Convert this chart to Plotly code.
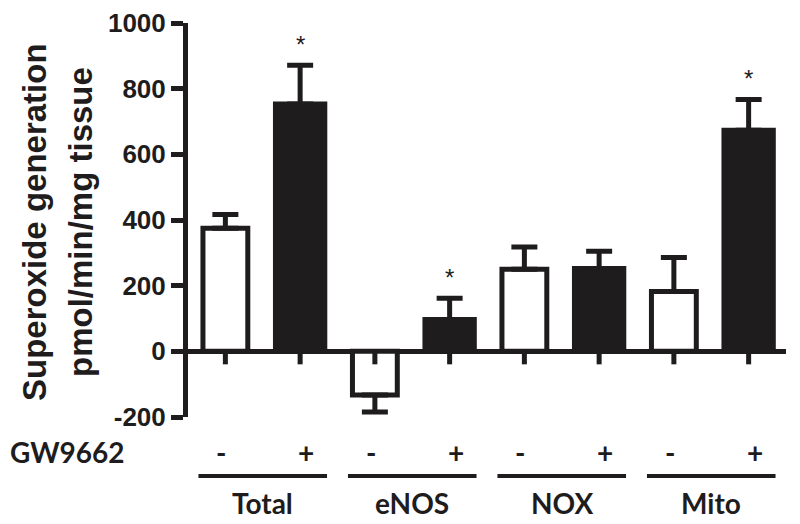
import plotly.graph_objects as go

# ---- data ----
categories = ["Total", "eNOS", "NOX", "Mito"]
treatments = ["-", "+"]
vals_minus = [375, -133, 250, 182]      # GW9662 -
vals_plus = [753, 97, 252, 673]         # GW9662 +
err_minus = [42, 52, 68, 104]           # SEM, GW9662 -
err_plus = [118, 65, 53, 94]            # SEM, GW9662 +
sig_minus = [False, False, False, False]
sig_plus = [True, True, False, True]
y_ticks = [-200, 0, 200, 400, 600, 800, 1000]

INK = "#1e1c1d"
LBL_FONT = "Lato"
AX_FONT = "Liberation Sans"

x_minus = [2 * i for i in range(len(categories))]
x_plus = [2 * i + 1 for i in range(len(categories))]
X_RANGE = [-0.5, 2 * len(categories) - 0.5]


def err_dirs(vals, errs):
    up = [e if v >= 0 else 0 for v, e in zip(vals, errs)]
    dn = [e if v < 0 else 0 for v, e in zip(vals, errs)]
    return up, dn


def to_dom(x):
    return (x - X_RANGE[0]) / (X_RANGE[1] - X_RANGE[0])


fig = go.Figure()
up_m, dn_m = err_dirs(vals_minus, err_minus)
up_p, dn_p = err_dirs(vals_plus, err_plus)

fig.add_trace(go.Bar(
    x=x_minus, y=vals_minus, width=0.6,
    marker=dict(color="white", line=dict(color=INK, width=5)),
    error_y=dict(type="data", symmetric=False, array=up_m, arrayminus=dn_m,
                 color=INK, thickness=5, width=13),
    showlegend=False, hoverinfo="skip",
))
fig.add_trace(go.Bar(
    x=x_plus, y=vals_plus, width=0.66,
    marker=dict(color=INK, line=dict(color=INK, width=5)),
    error_y=dict(type="data", symmetric=False, array=up_p, arrayminus=dn_p,
                 color=INK, thickness=5, width=13),
    showlegend=False, hoverinfo="skip",
))

annotations = []
shapes = []

# significance stars
for xs, vals, errs, sig in [(x_minus, vals_minus, err_minus, sig_minus),
                            (x_plus, vals_plus, err_plus, sig_plus)]:
    for x, v, e, s in zip(xs, vals, errs, sig):
        if s:
            annotations.append(dict(x=x, y=v + e, xref="x", yref="y", text="*",
                                    showarrow=False, yshift=21, yanchor="middle",
                                    font=dict(family=AX_FONT, size=24, color=INK)))

# x tick marks under the zero line
for x in x_minus + x_plus:
    shapes.append(dict(type="line", xref="x", yref="y", ysizemode="pixel", yanchor=0,
                       x0=x, x1=x, y0=0, y1=-13, line=dict(color=INK, width=5)))

ymin = y_ticks[0]
# treatment labels
for xs, t, sh in [(x_minus, treatments[0], -4), (x_plus, treatments[1], 6)]:
    for x in xs:
        annotations.append(dict(x=x, y=ymin, xref="x", yref="y", text=f"<b>{t}</b>",
                                showarrow=False, yshift=-35, xshift=sh, yanchor="middle",
                                font=dict(family=LBL_FONT, size=28, color=INK)))

# group lines and labels
for i, c in enumerate(categories):
    cx = (x_minus[i] + x_plus[i]) / 2
    shapes.append(dict(type="line", xref="x domain", yref="paper", ysizemode="pixel",
                       yanchor=0, x0=to_dom(cx - 0.86), x1=to_dom(cx + 0.86),
                       y0=-59, y1=-59, line=dict(color=INK, width=4)))
    annotations.append(dict(x=cx, y=ymin, xref="x", yref="y", text=f"<b>{c}</b>",
                            showarrow=False, yshift=-86, yanchor="middle",
                            font=dict(family=LBL_FONT, size=28, color=INK)))

annotations.append(dict(x=0, y=ymin, xref="paper", yref="y", text="<b>GW9662</b>",
                        showarrow=False, xanchor="right", xshift=-61, yshift=-35,
                        yanchor="middle", font=dict(family=LBL_FONT, size=28, color=INK)))

# y-axis title (two lines)
for txt, xs in [("Superoxide generation", -154), ("pmol/min/mg tissue", -108)]:
    annotations.append(dict(x=0, y=0.5, xref="paper", yref="paper", text=f"<b>{txt}</b>",
                            textangle=-90, showarrow=False, xanchor="center",
                            yanchor="middle", xshift=xs, yshift=-2,
                            font=dict(family=AX_FONT, size=33, color=INK)))

fig.update_layout(
    width=800, height=524,
    margin=dict(l=188, r=14, t=23, b=107, autoexpand=False),
    paper_bgcolor="white", plot_bgcolor="white",
    barmode="overlay",
    xaxis=dict(range=X_RANGE, showline=False, showgrid=False, zeroline=False,
               showticklabels=False, ticks=""),
    yaxis=dict(range=[y_ticks[0], y_ticks[-1]], tickvals=y_ticks,
               ticktext=[f"<b>{v}</b>" for v in y_ticks],
               showline=True, linecolor=INK, linewidth=5,
               ticks="outside", ticklen=12, tickwidth=5, tickcolor=INK,
               showgrid=False, zeroline=True, zerolinecolor=INK, zerolinewidth=5,
               tickfont=dict(family=AX_FONT, size=26, color=INK)),
    annotations=annotations, shapes=shapes,
)

fig.write_html("out.html", config={"displayModeBar": False},
               post_script="document.body.style.margin='0';document.body.style.overflow='hidden';")
